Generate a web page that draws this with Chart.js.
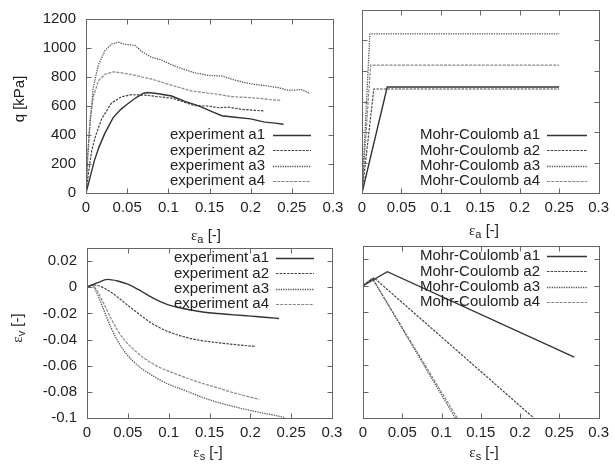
<!DOCTYPE html>
<html>
<head>
<meta charset="utf-8">
<script src="https://cdn.jsdelivr.net/npm/chart.js@4.4.1/dist/chart.umd.min.js"></script>
<style>
  body { margin: 0; background: #fff; }
  #wrap { position: relative; width: 615px; height: 468px; }
  #wrap canvas { position: absolute; left: 0; top: 0; }
</style>
</head>
<body>
<div id="wrap">
  <canvas id="qExp" width="615" height="468"></canvas>
  <canvas id="qMc" width="615" height="468"></canvas>
  <canvas id="evExp" width="615" height="468"></canvas>
  <canvas id="evMc" width="615" height="468"></canvas>
</div>
<script>
const strainTicks = [0, 0.05, 0.1, 0.15, 0.2, 0.25, 0.3];
const qTicks = [0, 200, 400, 600, 800, 1000, 1200];
const volTicks = [-0.1, -0.08, -0.06, -0.04, -0.02, 0, 0.02];

const expNames = ['experiment a1', 'experiment a2', 'experiment a3', 'experiment a4'];
const mcNames = ['Mohr-Coulomb a1', 'Mohr-Coulomb a2', 'Mohr-Coulomb a3', 'Mohr-Coulomb a4'];

// experiment: eps_a [-], q [kPa]
const expQa1 = [[0,0],[0.005,110],[0.01,220],[0.016,320],[0.023,413],[0.033,520],[0.042,575],[0.05,612],[0.06,655],[0.07,688],[0.075,693],[0.086,686],[0.095,678],[0.104,669],[0.112,650],[0.12,632],[0.136,603],[0.153,561],[0.165,533],[0.181,522],[0.2,511],[0.217,489],[0.23,482],[0.24,474]];
const expQa2 = [[0,0],[0.003,140],[0.0069,292],[0.012,400],[0.019,511],[0.031,621],[0.043,664],[0.055,678],[0.072,675],[0.088,664],[0.104,654],[0.12,625],[0.132,603],[0.149,599],[0.161,588],[0.173,592],[0.189,577],[0.205,570],[0.217,566]];
const expQa3 = [[0,0],[0.002,226],[0.0049,489],[0.0089,730],[0.015,884],[0.023,982],[0.031,1026],[0.039,1040],[0.047,1026],[0.0595,1018],[0.068,975],[0.08,935],[0.092,917],[0.104,884],[0.12,851],[0.132,829],[0.149,811],[0.165,807],[0.181,778],[0.201,752],[0.217,741],[0.234,726],[0.246,708],[0.262,713],[0.272,686]];
const expQa4 = [[0,0],[0.002,270],[0.0049,489],[0.0089,664],[0.015,774],[0.023,818],[0.033,836],[0.043,829],[0.055,818],[0.068,800],[0.08,785],[0.096,757],[0.112,730],[0.128,704],[0.145,691],[0.161,680],[0.177,664],[0.193,660],[0.209,654],[0.225,643],[0.237,638]];

// Mohr-Coulomb: eps_a [-], q [kPa]
const mcQa1 = [[0,0],[0.032,695],[0.25,695]];
const mcQa2 = [[0,0],[0.015,682],[0.25,682]];
const mcQa3 = [[0,0],[0.01,1043],[0.25,1043]];
const mcQa4 = [[0,0],[0.011,839],[0.25,839]];

// experiment: eps_s [-], eps_v [-]
const expVa1 = [[0,0],[0.013,0.0035],[0.0253,0.006],[0.0375,0.0048],[0.0498,0.0023],[0.062,-0.0015],[0.074,-0.0058],[0.0865,-0.0101],[0.0987,-0.0133],[0.111,-0.0153],[0.127,-0.0174],[0.1436,-0.0191],[0.16,-0.0201],[0.18,-0.0211],[0.2007,-0.0221],[0.221,-0.0231],[0.235,-0.0239]];
const expVa2 = [[0,0],[0.0069,0.0018],[0.0171,0.0005],[0.0294,-0.0038],[0.0416,-0.0096],[0.0538,-0.0158],[0.066,-0.0216],[0.0783,-0.0272],[0.0905,-0.0314],[0.1028,-0.0347],[0.119,-0.038],[0.1354,-0.0403],[0.1517,-0.0418],[0.168,-0.043],[0.1884,-0.0443],[0.206,-0.0453]];
const expVa3 = [[0,0],[0.006,0.0015],[0.013,-0.0058],[0.0212,-0.0184],[0.0294,-0.0309],[0.0375,-0.041],[0.0457,-0.049],[0.0579,-0.0574],[0.0701,-0.0636],[0.0865,-0.0699],[0.1028,-0.075],[0.119,-0.0787],[0.1395,-0.0838],[0.16,-0.088],[0.18,-0.0913],[0.2007,-0.0943],[0.221,-0.0969],[0.2414,-0.0995]];
const expVa4 = [[0,0],[0.006,0.0015],[0.013,-0.0033],[0.0212,-0.0133],[0.0294,-0.0239],[0.0375,-0.033],[0.0457,-0.0403],[0.0579,-0.048],[0.0701,-0.0543],[0.0865,-0.0606],[0.1028,-0.0649],[0.119,-0.0687],[0.1395,-0.0732],[0.16,-0.077],[0.18,-0.0808],[0.1986,-0.0838],[0.211,-0.0858]];

// Mohr-Coulomb: eps_s [-], eps_v [-]
const mcVa1 = [[0,0],[0.031,0.0106],[0.269,-0.054]];
const mcVa2 = [[0,0],[0.014,0.006],[0.2175,-0.1]];
const mcVa3 = [[0,0],[0.012,0.0055],[0.1175,-0.1]];
const mcVa4 = [[0,0],[0.012,0.0055],[0.12,-0.1]];

const W = 615, H = 468;
const YW = 60, XH = 30;
const FONT = '"Liberation Sans", Arial, sans-serif';

const styles = [
  { color: '#333', dash: [], width: 1.4 },
  { color: '#444', dash: [2.5, 1.2], width: 1.2 },
  { color: '#555', dash: [1.3, 1.1], width: 1.3 },
  { color: '#888', dash: [3, 1.2], width: 1.2 }
];

const fmt = v => String(+v.toFixed(2));

// label with epsilon + subscript, or plain text
function drawLabel(ctx, t) {
  const parts = t.sub
    ? [{ s: 'ε', f: '15px "Liberation Serif", serif', dy: 0 },
       { s: t.sub, f: '11px ' + FONT, dy: 4 },
       { s: ' [-]', f: '15px ' + FONT, dy: 0 }]
    : [{ s: t.text, f: '15px ' + FONT, dy: 0 }];
  ctx.save();
  ctx.translate(t.x, t.y);
  if (t.rot) ctx.rotate(-Math.PI / 2);
  ctx.fillStyle = '#222';
  ctx.textBaseline = 'middle';
  let w = 0;
  parts.forEach(p => { ctx.font = p.f; w += ctx.measureText(p.s).width; });
  let x = -w / 2;
  parts.forEach(p => {
    ctx.font = p.f;
    ctx.fillText(p.s, x, p.dy);
    x += ctx.measureText(p.s).width;
  });
  ctx.restore();
}

// gnuplot style frame, inward ticks, key and axis labels
const frame = {
  id: 'frame',
  afterDraw(chart, args, o) {
    const { ctx, chartArea: a, scales } = chart;
    const L = Math.round(a.left) + 0.5, R = Math.round(a.right) + 0.5;
    const T = Math.round(a.top) + 0.5, B = Math.round(a.bottom) + 0.5;
    ctx.save();
    ctx.strokeStyle = '#666';
    ctx.lineWidth = 1;
    ctx.strokeRect(L, T, R - L, B - T);
    ctx.beginPath();
    scales.x.ticks.forEach(t => {
      const px = Math.round(scales.x.getPixelForValue(t.value)) + 0.5;
      ctx.moveTo(px, B); ctx.lineTo(px, B - 5);
      ctx.moveTo(px, T); ctx.lineTo(px, T + 5);
    });
    scales.y.ticks.forEach(t => {
      const py = Math.round(scales.y.getPixelForValue(t.value)) + 0.5;
      ctx.moveTo(L, py); ctx.lineTo(L + 5, py);
      ctx.moveTo(R, py); ctx.lineTo(R - 5, py);
    });
    ctx.stroke();

    const k = o.key;
    ctx.font = '15px ' + FONT;
    ctx.textAlign = 'right';
    ctx.textBaseline = 'middle';
    chart.data.datasets.forEach((ds, i) => {
      const y = k.y + i * 15.4;
      ctx.fillStyle = '#222';
      ctx.fillText(ds.label, k.x, y);
      ctx.strokeStyle = ds.borderColor;
      ctx.lineWidth = ds.borderWidth;
      ctx.setLineDash(ds.borderDash);
      ctx.beginPath();
      ctx.moveTo(k.x0, Math.round(y) + 0.5);
      ctx.lineTo(k.x1, Math.round(y) + 0.5);
      ctx.stroke();
      ctx.setLineDash([]);
    });
    ctx.restore();
    o.titles.forEach(t => drawLabel(ctx, t));
  }
};

function panel(id, p) {
  const datasets = p.series.map((pts, i) => ({
    label: p.names[i],
    data: pts.map(([x, y]) => ({ x, y })),
    borderColor: styles[i].color,
    borderDash: styles[i].dash,
    borderWidth: styles[i].width,
    pointRadius: 0,
    fill: false,
    cubicInterpolationMode: p.smooth ? 'monotone' : 'default',
    tension: 0
  }));
  const [l, t, r, b] = p.box;
  return new Chart(document.getElementById(id), {
    type: 'line',
    data: { datasets },
    options: {
      responsive: false,
      animation: false,
      devicePixelRatio: 1,
      events: [],
      layout: { padding: { left: l - YW, top: t, right: W - r, bottom: H - b - XH } },
      plugins: {
        legend: { display: false },
        tooltip: { enabled: false },
        frame: { key: p.key, titles: p.titles }
      },
      scales: {
        x: {
          type: 'linear', min: 0, max: 0.3,
          afterBuildTicks: s => { s.ticks = strainTicks.map(value => ({ value })); },
          afterFit: s => { s.height = XH; },
          grid: { display: false, drawTicks: false },
          border: { display: false },
          ticks: { color: '#222', font: { family: FONT, size: 15 }, padding: 6, maxRotation: 0, autoSkip: false, callback: fmt }
        },
        y: {
          type: 'linear', min: p.yMin, max: p.yMax,
          afterBuildTicks: s => { s.ticks = p.yTicks.map(value => ({ value })); },
          afterFit: s => { s.width = YW; },
          grid: { display: false, drawTicks: false },
          border: { display: false },
          ticks: { display: p.yLabels, color: '#222', font: { family: FONT, size: 15 }, padding: 10, autoSkip: false, callback: fmt }
        }
      }
    },
    plugins: [frame]
  });
}

panel('qExp', {
  box: [86, 10, 333, 193],
  series: [expQa1, expQa2, expQa3, expQa4], names: expNames,
  yMin: 0, yMax: 1200, yTicks: qTicks, yLabels: true,
  key: { x: 265, y: 135, x0: 273, x1: 311 },
  titles: [{ text: 'q [kPa]', x: 20, y: 99, rot: true }, { sub: 'a', x: 206, y: 236 }]
});
panel('qMc', {
  box: [362, 10, 603, 193],
  series: [mcQa1, mcQa2, mcQa3, mcQa4], names: mcNames,
  yMin: 0, yMax: 1200, yTicks: qTicks, yLabels: false,
  key: { x: 540, y: 135, x0: 547, x1: 587 },
  titles: [{ sub: 'a', x: 484, y: 231 }]
});
panel('evExp', {
  box: [87, 248, 332, 418], smooth: true,
  series: [expVa1, expVa2, expVa3, expVa4], names: expNames,
  yMin: -0.1, yMax: 0.03, yTicks: volTicks, yLabels: true,
  key: { x: 269, y: 258, x0: 276, x1: 314 },
  titles: [{ sub: 'v', x: 18, y: 328, rot: true }, { sub: 's', x: 208, y: 453 }]
});
panel('evMc', {
  box: [363, 246, 603, 418],
  series: [mcVa1, mcVa2, mcVa3, mcVa4], names: mcNames,
  yMin: -0.1, yMax: 0.03, yTicks: volTicks, yLabels: false,
  key: { x: 540, y: 256, x0: 547, x1: 587 },
  titles: [{ sub: 's', x: 484, y: 453 }]
});
</script>
</body>
</html>
